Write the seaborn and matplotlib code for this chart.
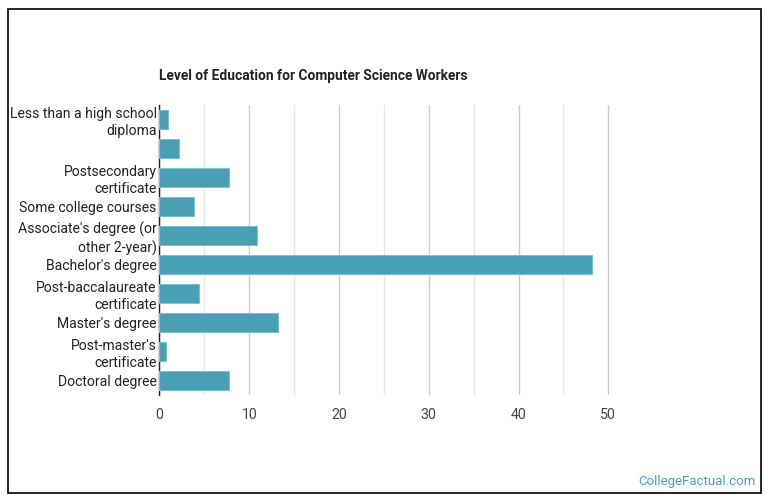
import matplotlib
matplotlib.use("Agg")
import matplotlib.pyplot as plt
import matplotlib.patches as patches
import seaborn as sns
import pandas as pd

# data
categories = ["Less than a high school diploma", "High school diploma",
              "Postsecondary certificate", "Some college courses",
              "Associate's degree (or other 2-year)", "Bachelor's degree",
              "Post-baccalaureate certificate", "Master's degree",
              "Post-master's certificate", "Doctoral degree"]
tick_labels = ["Less than a high school\ndiploma", "",
               "Postsecondary\ncertificate", "Some college courses",
               "Associate's degree (or\nother 2-year)", "Bachelor's degree",
               "Post-baccalaureate\ncertificate", "Master's degree",
               "Post-master's\ncertificate", "Doctoral degree"]
percent = [0.9, 2.2, 7.7, 3.9, 10.9, 48.2, 4.4, 13.2, 0.75, 7.7]
x_ticks = [0, 10, 20, 30, 40, 50]
minor_ticks = [5, 15, 25, 35, 45]

df = pd.DataFrame({"level": categories, "pct": percent})

sns.set_theme(style="white")
plt.rcParams["font.family"] = ["Roboto", "DejaVu Sans"]

fig = plt.figure(figsize=(7.7, 5.03), dpi=100)
ax = fig.add_axes([0.2071, 0.2147, 0.5916, 0.5766])

sns.barplot(data=df, x="pct", y="level", orient="h", color="#4a9fb5",
            saturation=1, width=0.66, edgecolor="#7cc0d0", linewidth=0.8,
            ax=ax, zorder=3)

ax.set_xlim(0, 50.75)
ax.set_xticks(x_ticks)
ax.set_xticks(minor_ticks, minor=True)
ax.set_xticklabels([str(t) for t in x_ticks], fontsize=10.2, color="#444444")
ax.set_yticks(range(len(categories)))
ax.set_yticklabels(tick_labels, fontsize=10.1, color="#222222", linespacing=1.25)
ax.tick_params(axis="x", which="both", length=0, pad=9)
ax.tick_params(axis="y", length=0, pad=2)
ax.grid(axis="x", which="major", color="#cccccc", linewidth=1, zorder=0)
ax.grid(axis="x", which="minor", color="#e8e8e8", linewidth=1, zorder=0)
ax.set_axisbelow(True)
ax.set_xlabel("")
ax.set_ylabel("")
for side in ["top", "right", "bottom"]:
    ax.spines[side].set_visible(False)
ax.spines["left"].set_color("#222222")
ax.spines["left"].set_linewidth(1)

fig.text(0.2071, 0.849, "Level of Education for Computer Science Workers",
         fontsize=9.9, fontweight="bold", color="#222222", va="center")
fig.text(0.981, 0.043, "CollegeFactual.com", fontsize=9.5, color="#4a9fb5",
         ha="right", va="center")

# outer frame
fig.patches.append(patches.Rectangle((8 / 770, 10 / 503), 753 / 770, 484 / 503,
                                     transform=fig.transFigure, fill=False,
                                     edgecolor="black", linewidth=1.2))

fig.savefig("out.png", dpi=100)
